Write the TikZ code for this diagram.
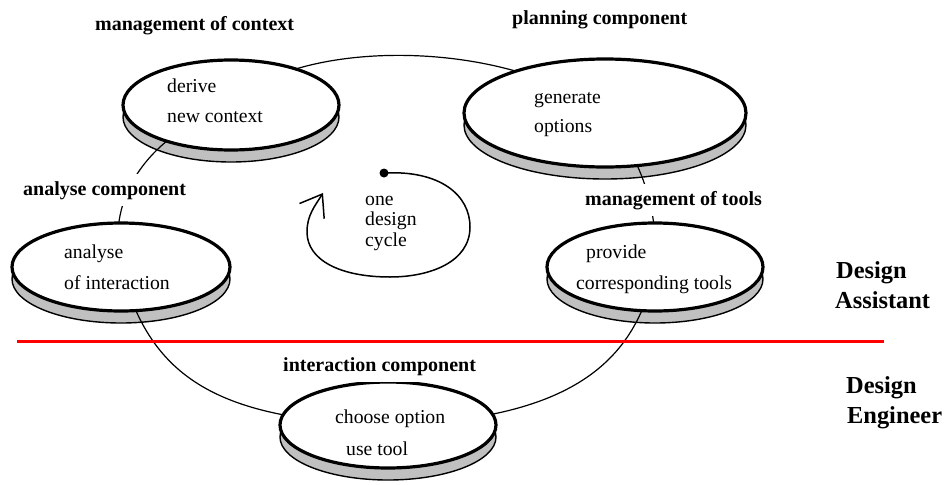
\documentclass[tikz,border=0pt]{standalone}
\usepackage{fontspec}
\setmainfont{Liberation Serif}
\usetikzlibrary{shapes.geometric,arrows.meta}
\definecolor{shadowgray}{HTML}{C0C0C0}
\pgfdeclarelayer{shadowlayer}
\pgfdeclarelayer{connlayer}
\pgfsetlayers{shadowlayer,connlayer,main}
\begin{document}
\begin{tikzpicture}[x=1pt,y=-1pt,
  disk/.style={ellipse, draw=black, line width=3.2pt, fill=white, inner sep=0pt},
  shadowdisk/.style={ellipse, draw=black, line width=1.4pt, fill=shadowgray, inner sep=0pt, yshift=-12pt},
  szA/.style={minimum width=216pt, minimum height=90pt},
  szB/.style={minimum width=282pt, minimum height=108pt},
  szC/.style={minimum width=218pt, minimum height=88pt},
  szD/.style={minimum width=216pt, minimum height=88pt},
  szE/.style={minimum width=216pt, minimum height=86pt},
  txt/.style={anchor=base west, inner sep=0pt, font=\fontsize{19.7}{20}\selectfont},
  lbl/.style={anchor=base west, inner xsep=0pt, inner ysep=7pt, fill=white, font=\fontsize{20}{20}\selectfont\bfseries},
  side/.style={anchor=base west, inner sep=0pt, font=\fontsize{24.4}{24}\selectfont\bfseries},
  conn/.style={draw=black, line width=1.2pt},
  cyc/.style={draw=black, line width=1.5pt},
]
\useasboundingbox (0,0) rectangle (946,485);

% ellipses
\node[disk, szA] (e1) at (231,105) {};
\node[disk, szB] (e2) at (605,113) {};
\node[disk, szC] (e3) at (121,267) {};
\node[disk, szD] (e4) at (655,267) {};
\node[disk, szE] (e5) at (388,425) {};

% shadows
\begin{pgfonlayer}{shadowlayer}
\node[shadowdisk, szA] (s1) at (e1.center) {};
\node[shadowdisk, szB] (s2) at (e2.center) {};
\node[shadowdisk, szC] (s3) at (e3.center) {};
\node[shadowdisk, szD] (s4) at (e4.center) {};
\node[shadowdisk, szE] (s5) at (e5.center) {};
\end{pgfonlayer}

% texts inside
\node[txt] (t1a) at (167,92) {derive};
\node[txt] (t1b) at (167,122) {new context};
\node[txt] (t2a) at (534,103) {generate};
\node[txt] (t2b) at (534,132) {options};
\node[txt] (t3a) at (64,258) {analyse};
\node[txt] (t3b) at (64,289) {of interaction};
\node[txt] (t4a) at (586,258) {provide};
\node[txt] (t4b) at (576,289) {corresponding tools};
\node[txt] (t5a) at (335,423) {choose option};
\node[txt] (t5b) at (346,455) {use tool};

% labels
\node[lbl] (l1) at (95,30) {management of context};
\node[lbl] (l2) at (512,24) {planning component};
\node[lbl] (l3) at (23,195) {analyse component};
\node[lbl] (l4) at (585,205) {management of tools};
\node[lbl] (l5) at (283,371) {interaction component};

\node[side] (da1) at (836,278) {Design};
\node[side] (da2) at (835,308) {Assistant};
\node[side] (de1) at (846,393) {Design};
\node[side] (de2) at (847,423) {Engineer};

% one design cycle
\node[txt] (c1) at (365,205) {one};
\node[txt] (c2) at (365,225) {design};
\node[txt] (c3) at (365,246) {cycle};
\coordinate (cs) at (384,173);
\coordinate (ce) at (323,193);
\draw[cyc, -{Straight Barb[length=20pt,width=29pt]}] (cs) .. controls (440,170) and (470,195) .. (470,227)
   .. controls (470,262) and (430,277) .. (390,277)
   .. controls (340,277) and (307,260) .. (307,232)
   .. controls (307,215) and (315,206) .. (ce);
\fill (cs) circle (4.5pt);

% divider
\coordinate (rl) at (17,341);
\coordinate (rr) at (884,341);
\draw[red, line width=3pt] (rl) -- (rr);

% connectors (above the shadows, below the ellipses)
\begin{pgfonlayer}{connlayer}
\draw[conn] (e1.center) .. controls (290,40) and (500,35) .. (e2.center);
\draw[conn] (e1.center) .. controls (150,135) and (105,195) .. (e3.center);
\draw[conn] (e2.center) .. controls (630,145) and (660,195) .. (e4.center);
\draw[conn] (e3.center) .. controls (150,380) and (220,420) .. (e5.center);
\draw[conn] (e4.center) .. controls (635,370) and (560,420) .. (e5.center);
\end{pgfonlayer}
\end{tikzpicture}
\end{document}
